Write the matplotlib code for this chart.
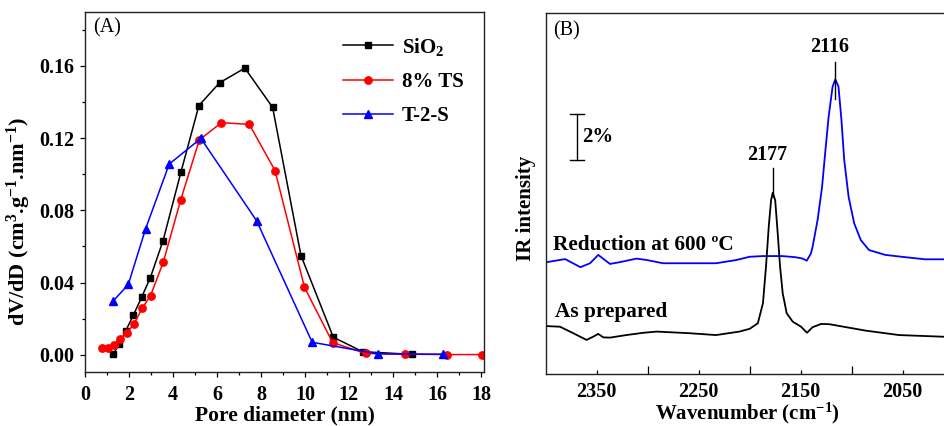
import matplotlib
matplotlib.use("Agg")
import matplotlib.pyplot as plt
from matplotlib.ticker import MultipleLocator, FixedLocator

plt.rcParams["font.family"] = ["Liberation Serif", "DejaVu Serif"]
plt.rcParams["font.weight"] = "bold"
plt.rcParams["mathtext.fontset"] = "custom"
plt.rcParams["mathtext.rm"] = "Liberation Serif:bold"
plt.rcParams["mathtext.bf"] = "Liberation Serif:bold"
plt.rcParams["mathtext.it"] = "Liberation Serif:bold"

# (A) pore size distribution
sio2_d = [1.28, 1.56, 1.86, 2.2, 2.58, 2.97, 3.55, 4.36, 5.18, 6.12, 7.27, 8.53, 9.82, 11.29, 12.62, 14.89]
sio2_v = [0.0005, 0.006, 0.0135, 0.022, 0.032, 0.0427, 0.0632, 0.101, 0.138, 0.1506, 0.1587, 0.137, 0.055, 0.0098, 0.0018, 0.0003]

ts_d = [0.76, 1.05, 1.3, 1.59, 1.89, 2.24, 2.6, 2.98, 3.56, 4.35, 5.2, 6.2, 7.47, 8.64, 9.98, 11.26, 12.77, 14.55, 16.48, 18.03]
ts_v = [0.0039, 0.0039, 0.0053, 0.0087, 0.012, 0.0173, 0.0258, 0.0328, 0.0513, 0.0857, 0.119, 0.1285, 0.1276, 0.102, 0.0374, 0.0068, 0.0008, 0.0004, 0.0002, 0.0002]

t2s_d = [1.29, 1.97, 2.76, 3.83, 5.27, 7.8, 10.33, 13.3, 16.29]
t2s_v = [0.0299, 0.039, 0.0699, 0.1056, 0.1198, 0.0743, 0.007, 0.0006, 0.0004]

# (B) CO adsorption IR spectra, intensity in %
wn_red = [2400, 2381, 2366, 2356.5, 2348.5, 2337, 2327, 2311, 2301, 2285, 2259, 2233, 2213, 2200,
          2187, 2168, 2155, 2148, 2144, 2140, 2138.3, 2133.4, 2129, 2126, 2122.6, 2118.7, 2116,
          2112.9, 2110, 2107.3, 2103, 2097.5, 2091, 2083, 2067, 2047, 2028, 2005]
int_red = [4.82, 4.96, 4.61, 4.78, 5.14, 4.75, 4.83, 4.98, 4.92, 4.78, 4.78, 4.78, 4.92, 5.06,
           5.09, 5.09, 5.04, 4.98, 4.89, 5.2, 5.49, 6.65, 8.08, 9.53, 11.1, 12.4, 12.72,
           12.4, 10.96, 9.24, 7.65, 6.5, 5.78, 5.35, 5.14, 5.04, 4.95, 4.95]

wn_prep = [2400, 2386, 2373, 2360, 2353, 2348.5, 2343.5, 2337, 2321, 2304, 2291, 2259, 2233, 2210,
           2200, 2192, 2187, 2184, 2181.3, 2179, 2177.4, 2175, 2172.5, 2170.2, 2167.6, 2163.7,
           2157.8, 2149.6, 2143.8, 2138.3, 2130, 2122, 2086, 2053.5, 2005]
int_prep = [2.07, 2.04, 1.76, 1.47, 1.62, 1.73, 1.58, 1.57, 1.68, 1.78, 1.83, 1.76, 1.68, 1.83,
            1.95, 2.19, 3.05, 4.63, 6.36, 7.51, 7.82, 7.51, 6.07, 4.63, 3.48, 2.62,
            2.26, 2.04, 1.78, 2.02, 2.16, 2.15, 1.87, 1.68, 1.6]

peak_wn = [2177, 2116]
peak_lines = [(7.65, 8.88), (11.86, 13.48)]
peak_text_y = [9.45, 14.13]

fig = plt.figure(figsize=(9.44, 4.26), dpi=100)
axA = fig.add_axes([0.0900, 0.1261, 0.4227, 0.8451])
axB = fig.add_axes([0.5781, 0.1221, 0.4267, 0.8467])

# ---- panel A
axA.plot(sio2_d, sio2_v, color="black", marker="s", ms=4.8, lw=1.1, label="SiO$_\\mathregular{2}$")
axA.plot(ts_d, ts_v, color="#ff0000", marker="o", ms=5.3, lw=1.1, label="8% TS")
axA.plot(t2s_d, t2s_v, color="#0000ff", marker="^", ms=5.8, lw=1.1, label="T-2-S")
axA.set_xlim(0, 18.14)
axA.set_ylim(-0.0096, 0.1896)
axA.xaxis.set_major_locator(MultipleLocator(2))
axA.xaxis.set_minor_locator(MultipleLocator(1))
axA.yaxis.set_major_locator(MultipleLocator(0.04))
axA.yaxis.set_minor_locator(MultipleLocator(0.02))
axA.yaxis.set_major_formatter(lambda v, p: f"{v:.2f}")
axA.tick_params(which="major", direction="out", length=3.5, width=0.9, labelsize=14.5, pad=4)
axA.tick_params(axis="x", which="major", pad=5.5)
axA.tick_params(which="minor", direction="out", length=2, width=0.9)
axA.set_xlabel("Pore diameter (nm)", fontsize=15.5, fontweight="bold", labelpad=0.5)
axA.set_ylabel("dV/dD (cm$^\\mathregular{3}$.g$^\\mathregular{-1}$.nm$^\\mathregular{-1}$)",
               fontsize=16, fontweight="bold")
axA.yaxis.set_label_coords(-0.13, 0.42)
axA.text(0.02, 0.958, "(A)", transform=axA.transAxes, fontsize=14.5, fontweight="normal",
         va="center", ha="left")
axA.legend(loc="upper left", bbox_to_anchor=(0.625, 0.958), frameon=False, fontsize=15,
           handlelength=2.4, handletextpad=0.45, labelspacing=0.68, borderaxespad=0)

# ---- panel B
axB.plot(wn_red, int_red, color="#0000ff", lw=1.3)
axB.plot(wn_prep, int_prep, color="black", lw=1.3)
axB.set_xlim(2400, 2005)
axB.set_ylim(0, 15.57)
axB.xaxis.set_major_locator(FixedLocator([2350, 2250, 2150, 2050]))
axB.xaxis.set_minor_locator(FixedLocator([2300, 2200, 2100]))
axB.set_yticks([])
axB.tick_params(which="major", direction="in", length=3, width=0.9, labelsize=14.5, pad=6)
axB.tick_params(which="minor", direction="in", length=5.5, width=0.9)
axB.set_xlabel("Wavenumber (cm$^\\mathregular{-1}$)", fontsize=15, fontweight="bold", labelpad=-1)
axB.set_ylabel("IR intensity", fontsize=15, fontweight="bold")
axB.yaxis.set_label_coords(-0.025, 0.46)
axB.text(0.018, 0.95, "(B)", transform=axB.transAxes, fontsize=14.5, fontweight="normal",
         va="center", ha="left")

for wn, (y0, y1), ty in zip(peak_wn, peak_lines, peak_text_y):
    axB.plot([wn, wn], [y0, y1], color="black", lw=1.0)
    axB.text(wn + 6, ty, str(wn), fontsize=14.5, fontweight="bold", ha="center", va="center")

# 2% scale bar
axB.plot([2369, 2369], [9.22, 11.22], color="black", lw=1.0)
axB.plot([2376, 2362], [9.22, 9.22], color="black", lw=1.0)
axB.plot([2376, 2362], [11.22, 11.22], color="black", lw=1.0)
axB.text(2364, 10.22, "2%", fontsize=15, fontweight="bold", ha="left", va="center")

axB.text(2392.5, 5.35, "Reduction at 600 \u00baC", fontsize=15.3, fontweight="bold",
         ha="left", va="baseline")
axB.text(2390.5, 2.47, "As prepared", fontsize=15.3, fontweight="bold", ha="left", va="baseline")

for ax in (axA, axB):
    for s in ax.spines.values():
        s.set_linewidth(1.0)
        s.set_color("#222222")

fig.savefig("out.png", dpi=100)
